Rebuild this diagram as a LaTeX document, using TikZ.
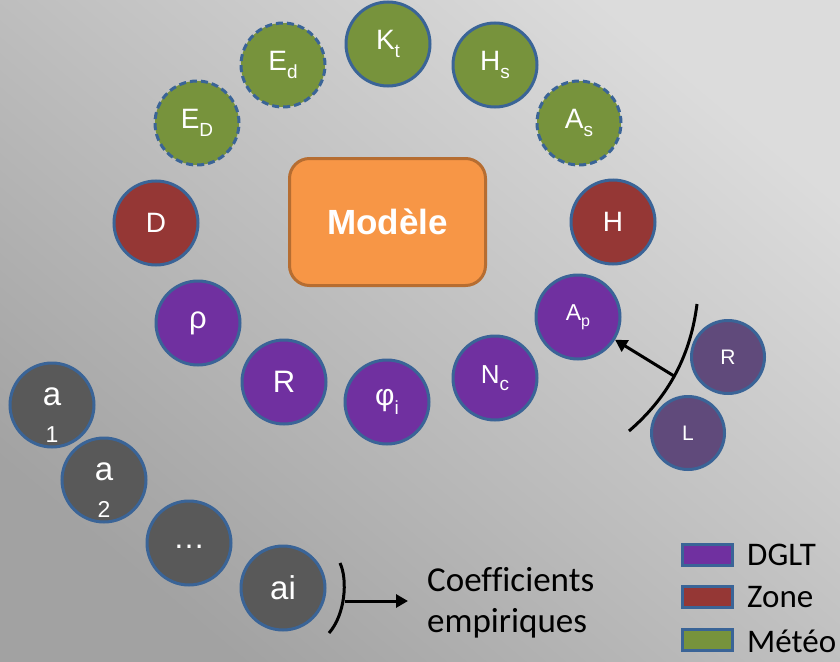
\documentclass[tikz,border=0pt]{standalone}
\usepackage{fontspec}
\setmainfont{Liberation Sans}
\newfontfamily\calib[Ligatures=NoCommon]{Carlito}
\usetikzlibrary{arrows.meta}
\definecolor{bgA}{HTML}{DCDCDC}
\definecolor{bgB}{HTML}{A2A2A2}
\definecolor{cgreen}{HTML}{77933C}
\definecolor{cred}{HTML}{953735}
\definecolor{cpurple}{HTML}{7030A0}
\definecolor{cdpurple}{HTML}{604A7B}
\definecolor{cgray}{HTML}{595959}
\definecolor{cborder}{HTML}{3A6497}
\definecolor{corange}{HTML}{F79646}
\definecolor{corangeb}{HTML}{B66D31}
\newcommand\sbs[1]{\raisebox{-0.28em}{\fontsize{19}{19}\selectfont #1}}
\newcommand\fsz[1]{\fontsize{#1}{#1}\selectfont}
\newcommand\stacked[2]{\raisebox{0pt}[0pt][0pt]{\makebox[0pt]{#1}}\raisebox{-37pt}[0pt][0pt]{\makebox[0pt]{\fsz{23}#2}}}
\tikzset{
  bubble/.style={circle, minimum size=84pt, inner sep=0pt, draw=cborder, line width=3pt, text=white, font=\fsz{28}},
  smallbubble/.style={bubble, minimum size=73pt, fill=cdpurple, font=\fsz{21}},
  meteo/.style={bubble, fill=cgreen},
  meteod/.style={meteo, dash pattern=on 7pt off 4pt},
  zone/.style={bubble, fill=cred},
  dglt/.style={bubble, fill=cpurple},
  coef/.style={bubble, fill=cgray, font=\fsz{33}},
  legbox/.style={draw=cborder, line width=3pt, minimum width=50pt, minimum height=21pt, inner sep=0pt},
  legtext/.style={anchor=base west, font=\calib\fsz{33}, inner sep=0pt},
  blackline/.style={line width=3pt, black},
  arr/.style={blackline, -{Triangle[length=12pt,width=13pt]}}
}
\begin{document}
\begin{tikzpicture}[x=1pt,y=-1pt]
\useasboundingbox (0,0) rectangle (840,661);
\shade[top color=bgA, bottom color=bgB, shading angle=-40] (0,0) rectangle (840,661);

% model
\node[draw=corangeb, line width=3pt, fill=corange, rounded corners=20pt, minimum width=196pt, minimum height=127pt, text=white, font=\bfseries\fsz{35}] (model) at (387.5,222) {Modèle};

% meteo
\node[meteod] (ED) at (197,123) {E\sbs{D}};
\node[meteod] (Ed) at (283,65) {E\sbs{d}};
\node[meteo] (Kt) at (388,44) {K\sbs{t}};
\node[meteo] (Hs) at (495,65) {H\sbs{s}};
\node[meteod] (As) at (579,123) {A\sbs{s}};
% zone
\node[zone] (D) at (156,223) {D};
\node[zone] (H) at (613,222) {H};
% dglt
\node[dglt, font=\fsz{31}] (rho) at (198,323) {ρ};
\node[dglt, font=\fsz{31}] (R) at (284,382) {R};
\node[dglt, font=\fsz{30}] (phi) at (387,402) {φ\sbs{i}};
\node[dglt, font=\fsz{26}] (Nc) at (495,378) {N\sbs{c}};
\node[dglt, font=\fsz{23}] (Ap) at (578,317) {A{\raisebox{-0.25em}{\fsz{16}p}}};
% R, L
\node[smallbubble] (sR) at (728,357) {R};
\node[smallbubble] (sL) at (688,433) {L};
\draw[blackline] (697,304) .. controls (690,360) and (665,400) .. (629,431);
\coordinate (rl) at (674,376);
\draw[arr] (rl) -- (Ap);

% coefficients
\node[coef] (a1) at (52,405) {\stacked{a}{1}};
\node[coef] (a2) at (104,480) {\stacked{a}{2}};
\node[coef] (dots) at (189,543) {\raisebox{-10pt}{\fsz{32}…}};
\node[coef] (ai) at (283,588) {ai};
\draw[blackline] (340,563) .. controls (348,580) and (345,615) .. (329,633);
\coordinate (br) at (345,601);
\node[anchor=west, inner sep=0pt, align=left, font=\calib\fontsize{35}{41}\selectfont] (coeftext) at (427,603) {Coefficients\\empiriques};
\draw[arr, shorten >=19pt] (br) -- (br -| coeftext.west);

% legend
\node[legbox, fill=cpurple] (lg1) at (707.5,555) {};
\node[legbox, fill=cred] (lg2) at (707.5,596.5) {};
\node[legbox, fill=cgreen] (lg3) at (707.5,640) {};
\node[legtext] (lt1) at (747,565) {DGLT};
\node[legtext] (lt2) at (747,607) {Zone};
\node[legtext] (lt3) at (747,652) {Météo};
\end{tikzpicture}
\end{document}
